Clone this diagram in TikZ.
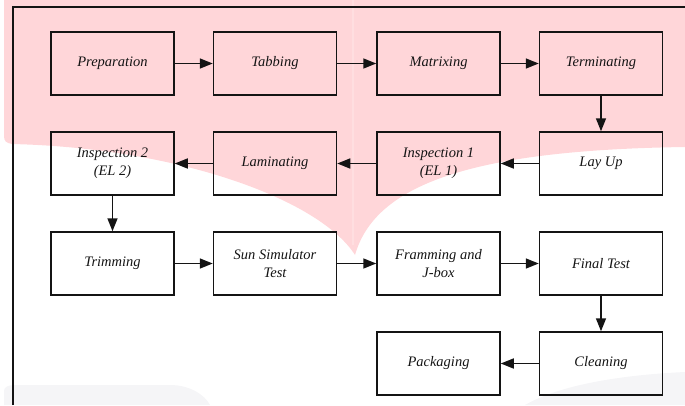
\documentclass[tikz,border=0pt]{standalone}
\usepackage{fontspec}
\setmainfont{Liberation Serif}
\usetikzlibrary{arrows.meta}
\definecolor{wmpink}{RGB}{255,214,217}
\definecolor{wmgrey}{RGB}{245,245,247}
\definecolor{ink}{RGB}{20,20,20}
\tikzset{
  stepbox/.style={draw=ink, line width=1.5pt, minimum width=123pt, minimum height=63pt,
    align=center, inner sep=2pt, text=ink, font=\fontsize{14.5}{18}\selectfont\itshape},
  flow/.style={draw=ink, line width=1.6pt, -{Triangle[length=13pt,width=10pt]}},
  frame/.style={draw=ink, line width=1.2pt}
}
\begin{document}
\begin{tikzpicture}[x=1pt,y=-1pt]
\useasboundingbox (0,0) rectangle (685,405);
% watermark background
\fill[wmpink] (4,0) -- (4,136) .. controls (4,141) and (6,143) .. (12,144)
  .. controls (180,148) and (320,200) .. (355,255)
  .. controls (375,185) and (470,150) .. (685,147) -- (685,0) -- cycle;
\draw[white, opacity=0.2, line width=2pt] (353,0) -- (353,245);
\fill[wmgrey] (4,405) -- (4,391) .. controls (4,387) and (8,385) .. (15,385) -- (170,385)
  .. controls (190,385) and (205,395) .. (210,405) -- cycle;
\fill[wmgrey] (525,405) .. controls (560,385) and (620,375) .. (685,372) -- (685,405) -- cycle;
% frame
\coordinate (fbl) at (13,405);
\coordinate (ftl) at (13,7);
\coordinate (ftr) at (685,7);
\draw[frame] (fbl) -- (ftl) -- (ftr);
% boxes
\node[stepbox] (prep) at (112.5,63.5) {Preparation};
\node[stepbox] (tab)  at (275,63.5) {Tabbing};
\node[stepbox] (mat)  at (438.5,63.5) {Matrixing};
\node[stepbox] (term) at (601,63.5) {Terminating};
\node[stepbox] (lay)  at (601,163.5) {Lay Up};
\node[stepbox] (ins1) at (438.5,163.5) {Inspection 1\\(EL 1)};
\node[stepbox] (lam)  at (275,163.5) {Laminating};
\node[stepbox] (ins2) at (112.5,163.5) {Inspection 2\\(EL 2)};
\node[stepbox] (trim) at (112.5,263.5) {Trimming};
\node[stepbox] (sun)  at (275,263.5) {Sun Simulator\\Test};
\node[stepbox] (frm)  at (438.5,263.5) {Framming and\\J-box};
\node[stepbox] (fin)  at (601,263.5) {Final Test};
\node[stepbox] (cln)  at (601,363.5) {Cleaning};
\node[stepbox] (pack) at (438.5,363.5) {Packaging};
% connectors
\draw[flow] (prep) -- (tab);
\draw[flow] (tab) -- (mat);
\draw[flow] (mat) -- (term);
\draw[flow] (term) -- (lay);
\draw[flow] (lay) -- (ins1);
\draw[flow] (ins1) -- (lam);
\draw[flow] (lam) -- (ins2);
\draw[flow] (ins2) -- (trim);
\draw[flow] (trim) -- (sun);
\draw[flow] (sun) -- (frm);
\draw[flow] (frm) -- (fin);
\draw[flow] (fin) -- (cln);
\draw[flow] (cln) -- (pack);
\end{tikzpicture}
\end{document}
